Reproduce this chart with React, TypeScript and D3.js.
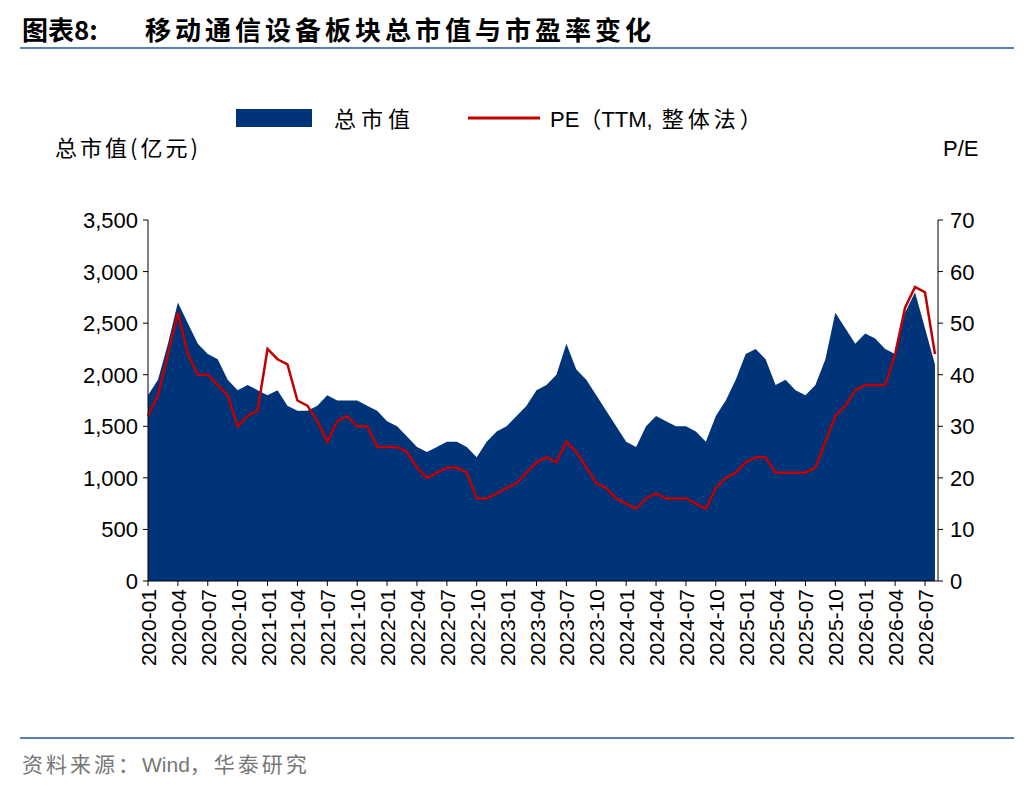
import React from "react";
import * as d3 from "d3";

const capValues = [
  1800,1950,2300,2700,2500,2300,2200,2150,1950,1850,1900,1850,
  1800,1850,1700,1650,1650,1700,1800,1750,1750,1750,1700,1650,
  1550,1500,1400,1300,1250,1300,1350,1350,1300,1200,1350,1450,
  1500,1600,1700,1850,1900,2000,2300,2050,1950,1800,1650,1500,
  1350,1300,1500,1600,1550,1500,1500,1450,1350,1600,1750,1950,
  2200,2250,2150,1900,1950,1850,1800,1900,2150,2600,2450,2300,
  2400,2350,2250,2200,2600,2800,2450,2100,
];
const peValues = [
  32,36,44,52,44,40,40,38,36,30,32,33,
  45,43,42,35,34,31,27,31,32,30,30,26,
  26,26,25,22,20,21,22,22,21,16,16,17,
  18,19,21,23,24,23,27,25,22,19,18,16,
  15,14,16,17,16,16,16,15,14,18,20,21,
  23,24,24,21,21,21,21,22,27,32,34,37,
  38,38,38,44,53,57,56,44,
];
const leftTicks = [0,500,1000,1500,2000,2500,3000,3500];
const rightTicks = [0,10,20,30,40,50,60,70];
const tickLabels = d3.range(0, 27).map(i => {
  const y = 2020 + Math.floor(i / 4), m = (i % 4) * 3 + 1;
  return `${y}-${String(m).padStart(2, "0")}`;
});

const L = 148, R = 938, T = 220, B = 581;
const BLUE = "#003478", RED = "#C00000";

export default function App() {
  const x = d3.scaleLinear().domain([0, 78]).range([L, 925]);
  const yL = d3.scaleLinear().domain([0, 3500]).range([B, T]);
  const yR = d3.scaleLinear().domain([0, 70]).range([B, T]);
  const area = d3.area<number>().x((_, i) => x(i)).y0(B).y1(d => yL(d));
  const line = d3.line<number>().x((_, i) => x(i)).y(d => yR(d));
  const font = "'Liberation Sans', Arial, sans-serif";
  const cjk = "'Noto Sans CJK SC', sans-serif";
  return (
    <svg width={1036} height={792} style={{ position: "absolute", left: 0, top: 0, background: "#fff" }}>
      <text x={22} y={40} fontFamily={cjk} fontWeight="bold" fontSize={26}>图表8:<tspan x={145} letterSpacing={4}>移动通信设备板块总市值与市盈率变化</tspan></text>
      <line x1={20} x2={1014} y1={48} y2={48} stroke="#5a7fb5" strokeWidth={2} />
      <rect x={236} y={109} width={76} height={18} fill={BLUE} />
      <text x={334} y={127} fontFamily={cjk} fontSize={22} letterSpacing={5}>总市值</text>
      <line x1={468} x2={540} y1={118} y2={118} stroke={RED} strokeWidth={3} />
      <text x={550} y={127} fontFamily={font} fontSize={22}>PE<tspan fontFamily={cjk}>（</tspan>TTM,<tspan fontFamily={cjk} letterSpacing={4}> 整体法）</tspan></text>
      <text x={55} y={156} fontFamily={cjk} fontSize={22} letterSpacing={3}>总市值(亿元)</text>
      <text x={943} y={156} fontFamily={font} fontSize={22}>P/E</text>
      <path d={area(capValues) ?? ""} fill={BLUE} />
      <path d={line(peValues) ?? ""} fill="none" stroke={RED} strokeWidth={2.5} />
      <line x1={L} x2={L} y1={T} y2={B} stroke="#000" />
      <line x1={R} x2={R} y1={T} y2={B} stroke="#000" />
      <line x1={L} x2={R} y1={B} y2={B} stroke="#000" />
      {leftTicks.map(t => (
        <g key={t}>
          <line x1={L - 5} x2={L} y1={yL(t)} y2={yL(t)} stroke="#000" />
          <text x={L - 10} y={yL(t) + 8} textAnchor="end" fontFamily={font} fontSize={22}>{d3.format(",")(t)}</text>
        </g>
      ))}
      {rightTicks.map(t => (
        <g key={t}>
          <line x1={R} x2={R + 5} y1={yR(t)} y2={yR(t)} stroke="#000" />
          <text x={R + 12} y={yR(t) + 8} fontFamily={font} fontSize={22}>{t}</text>
        </g>
      ))}
      {tickLabels.map((lab, i) => {
        const px = x(i * 3);
        return (
          <g key={lab}>
            <line x1={px} x2={px} y1={B} y2={B + 5} stroke="#000" />
            <text transform={`translate(${px + 8},${B + 8}) rotate(-90)`} textAnchor="end" fontFamily={font} fontSize={21}>{lab}</text>
          </g>
        );
      })}
      <line x1={20} x2={1014} y1={738} y2={738} stroke="#5a7fb5" strokeWidth={2} />
      <text x={22} y={772} fontFamily={cjk} fontSize={21} fill="#777" letterSpacing={3}>资料来源：<tspan fontFamily={font} letterSpacing={0}>Wind</tspan>，华泰研究</text>
    </svg>
  );
}
